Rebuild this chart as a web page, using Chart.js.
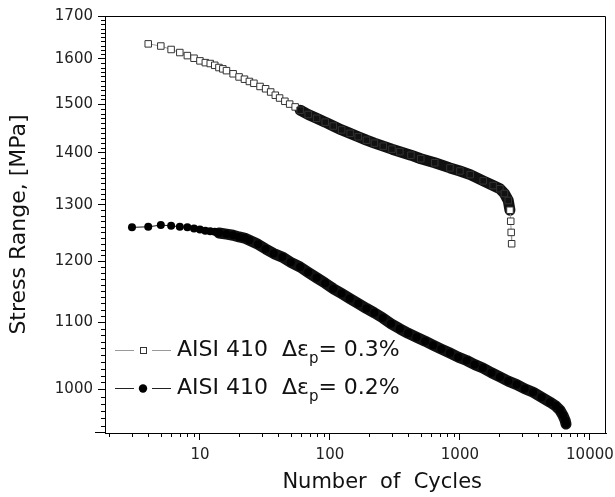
<!DOCTYPE html>
<html>
<head>
<meta charset="utf-8">
<script src="https://cdn.jsdelivr.net/npm/chart.js@4.4.0/dist/chart.umd.min.js"></script>
<style>
  html, body { margin: 0; padding: 0; background: #fff; }
  #wrap { width: 615px; height: 497px; }
</style>
</head>
<body>
<div id="wrap"><canvas id="fatigueChart" width="615" height="497"></canvas></div>
<script>
// values: number of cycles vs stress range [MPa]
var cycles03 = [4, 5, 6, 7, 8, 9, 10, 11, 12, 13, 14, 15, 16, 18, 20, 22, 24, 26, 29, 32,
  35, 38, 41, 45, 49, 54, 59, 68, 79, 92, 106, 123, 143, 165, 191, 220, 257, 300, 345, 420,
  500, 640, 838, 1000, 1200, 1510, 1800, 2031, 2200, 2355, 2427, 2460, 2480, 2500];
var stress03 = [1634, 1629, 1621, 1614, 1607, 1601, 1595, 1591, 1589, 1585, 1580, 1577, 1573, 1566, 1559, 1554, 1549, 1545, 1538, 1533,
  1526, 1519, 1513, 1506, 1500, 1494, 1487, 1478, 1470, 1462, 1454, 1446, 1439, 1432, 1425, 1419, 1413, 1407, 1402, 1395,
  1388, 1380, 1370, 1364, 1357, 1345, 1336, 1330, 1321, 1308, 1290, 1270, 1250, 1230];

var cycles02 = [3, 4, 5, 6, 7, 8, 9, 10, 11, 12, 13, 14, 16, 18, 20, 22, 24, 28, 32, 37,
  43, 50, 59, 68, 79, 92, 106, 123, 142, 165, 191, 220, 255, 295, 345, 400, 464, 540, 621, 720,
  838, 970, 1127, 1300, 1500, 1750, 2031, 2350, 2735, 3150, 3661, 4250, 4935, 5450, 5878, 6200, 6450, 6550];
var stress02 = [1259, 1260, 1263, 1262, 1260, 1259, 1257, 1255, 1253, 1252, 1251, 1249, 1247, 1245, 1242, 1240, 1236, 1229, 1221, 1213,
  1207, 1198, 1190, 1181, 1172, 1163, 1154, 1146, 1138, 1130, 1122, 1115, 1107, 1098, 1090, 1083, 1077, 1071, 1065, 1059,
  1053, 1047, 1042, 1036, 1031, 1024, 1018, 1012, 1007, 1001, 996, 989, 982, 977, 971, 964, 957, 952];

var xTicks = [10, 100, 1000, 10000];
var yTicks = [1000, 1100, 1200, 1300, 1400, 1500, 1600, 1700];
var seriesNames = ['AISI 410', 'AISI 410'];
var strainLabels = ['0.3%', '0.2%'];

function toPoints(xs, ys) {
  return xs.map(function (x, i) { return { x: x, y: ys[i] }; });
}

// dense stretch of markers shows as a solid band
function dense03(c) { return c >= 59 && c < 2427; }
function dense02(c) { return c >= 14; }

Chart.defaults.font.family = '"DejaVu Sans", "Liberation Sans", sans-serif';

var extras = {
  id: 'extras',
  afterDraw: function (chart) {
    var ctx = chart.ctx, a = chart.chartArea;
    var xs = chart.scales.x, ys = chart.scales.y;
    ctx.save();
    ctx.strokeStyle = '#000';
    ctx.lineWidth = 1;
    // top and right edges of the frame, plus the short stub at the bottom left
    ctx.beginPath();
    ctx.moveTo(a.left, a.top + 0.5);
    ctx.lineTo(a.right - 0.5, a.top + 0.5);
    ctx.lineTo(a.right - 0.5, a.bottom);
    ctx.moveTo(a.left - 10, a.bottom - 0.5);
    ctx.lineTo(a.left, a.bottom - 0.5);
    ctx.stroke();

    // minor ticks
    ctx.beginPath();
    [1, 10, 100, 1000].forEach(function (d) {
      for (var m = 2; m <= 9; m++) {
        var v = d * m;
        if (v < xs.min || v > xs.max) continue;
        var px = Math.round(xs.getPixelForValue(v)) + 0.5;
        ctx.moveTo(px, a.bottom);
        ctx.lineTo(px, a.bottom + 4);
      }
    });
    for (var v = 950; v < 1700; v += 10) {
      if (v % 100 === 0) continue;
      var py = Math.round(ys.getPixelForValue(v)) + 0.5;
      ctx.moveTo(a.left - 4, py);
      ctx.lineTo(a.left, py);
    }
    ctx.stroke();

    // legend
    var rows = [350, 388];
    rows.forEach(function (y, i) {
      ctx.strokeStyle = i === 0 ? '#999' : '#222';
      ctx.lineWidth = 1;
      ctx.beginPath();
      ctx.moveTo(115, y + 0.5); ctx.lineTo(134, y + 0.5);
      ctx.moveTo(152, y + 0.5); ctx.lineTo(171, y + 0.5);
      ctx.stroke();
      if (i === 0) {
        ctx.fillStyle = '#fff';
        ctx.strokeStyle = '#333';
        ctx.fillRect(140, y - 3, 7, 7);
        ctx.strokeRect(140.5, y - 2.5, 6, 6);
      } else {
        ctx.fillStyle = '#000';
        ctx.beginPath();
        ctx.arc(143, y + 0.5, 4.2, 0, Math.PI * 2);
        ctx.fill();
      }
      ctx.fillStyle = '#111';
      ctx.textBaseline = 'middle';
      ctx.textAlign = 'left';
      ctx.font = '22px "DejaVu Sans"';
      var head = seriesNames[i] + '  \u0394\u03b5';
      ctx.fillText(head, 177, y);
      var x = 177 + ctx.measureText(head).width;
      ctx.font = '15px "DejaVu Sans"';
      ctx.fillText('p', x, y + 9);
      x += ctx.measureText('p').width;
      ctx.font = '22px "DejaVu Sans"';
      ctx.fillText('= ' + strainLabels[i], x, y);
    });
    ctx.restore();
  }
};

var ctx = document.getElementById('fatigueChart').getContext('2d');
var chart = new Chart(ctx, {
  type: 'line',
  data: {
    datasets: [{
      label: seriesNames[0] + ' 0.3%',
      data: toPoints(cycles03, stress03),
      borderColor: '#999',
      borderWidth: 1,
      borderCapStyle: 'round',
      borderJoinStyle: 'round',
      pointStyle: 'rect',
      pointRadius: 4.6,
      pointBorderWidth: 1,
      pointBorderColor: '#333',
      pointBackgroundColor: function (c) { return dense03(cycles03[c.dataIndex]) ? '#111' : '#fff'; },
      segment: {
        borderWidth: function (c) { return dense03(cycles03[c.p0DataIndex]) ? 11 : 1; },
        borderColor: function (c) { return dense03(cycles03[c.p0DataIndex]) ? '#111' : '#999'; }
      }
    }, {
      label: seriesNames[1] + ' 0.2%',
      data: toPoints(cycles02, stress02),
      borderColor: '#111',
      borderWidth: 1,
      borderCapStyle: 'round',
      borderJoinStyle: 'round',
      pointStyle: 'circle',
      pointRadius: 4,
      pointBorderWidth: 0,
      pointBackgroundColor: '#000',
      segment: {
        borderWidth: function (c) { return dense02(cycles02[c.p0DataIndex]) ? 11 : 1; }
      }
    }]
  },
  options: {
    responsive: false,
    animation: false,
    layout: { padding: { left: 0, top: 16, right: 9, bottom: 0 } },
    plugins: {
      legend: { display: false },
      tooltip: { enabled: false }
    },
    scales: {
      x: {
        type: 'logarithmic',
        min: 1.86,
        max: 13300,
        afterBuildTicks: function (s) { s.ticks = xTicks.map(function (v) { return { value: v }; }); },
        afterFit: function (s) { s.height = 64; s.paddingLeft = 0; s.paddingRight = 0; },
        ticks: {
          autoSkip: false,
          maxRotation: 0,
          padding: 6,
          color: '#222',
          font: { size: 15 },
          callback: function (v) { return String(v); }
        },
        grid: { drawOnChartArea: false, tickLength: 7, color: '#000' },
        border: { color: '#000', width: 1 },
        title: {
          display: true,
          text: '\u00a0\u00a0\u00a0\u00a0\u00a0\u00a0\u00a0\u00a0Number  of  Cycles',
          color: '#111',
          font: { size: 21 },
          padding: { top: 0, bottom: 2 }
        }
      },
      y: {
        type: 'logarithmic',
        min: 940,
        max: 1700,
        afterBuildTicks: function (s) { s.ticks = yTicks.map(function (v) { return { value: v }; }); },
        afterFit: function (s) { s.width = 105; s.paddingTop = 0; s.paddingBottom = 0; },
        ticks: {
          autoSkip: false,
          padding: 5,
          color: '#222',
          font: { size: 15 },
          callback: function (v) { return String(v); }
        },
        grid: { drawOnChartArea: false, tickLength: 7, color: '#000' },
        border: { color: '#000', width: 1 },
        title: {
          display: true,
          text: 'Stress Range, [MPa]',
          color: '#111',
          font: { size: 22 },
          padding: { top: 6, bottom: 0 }
        }
      }
    }
  },
  plugins: [extras]
});
</script>
</body>
</html>
